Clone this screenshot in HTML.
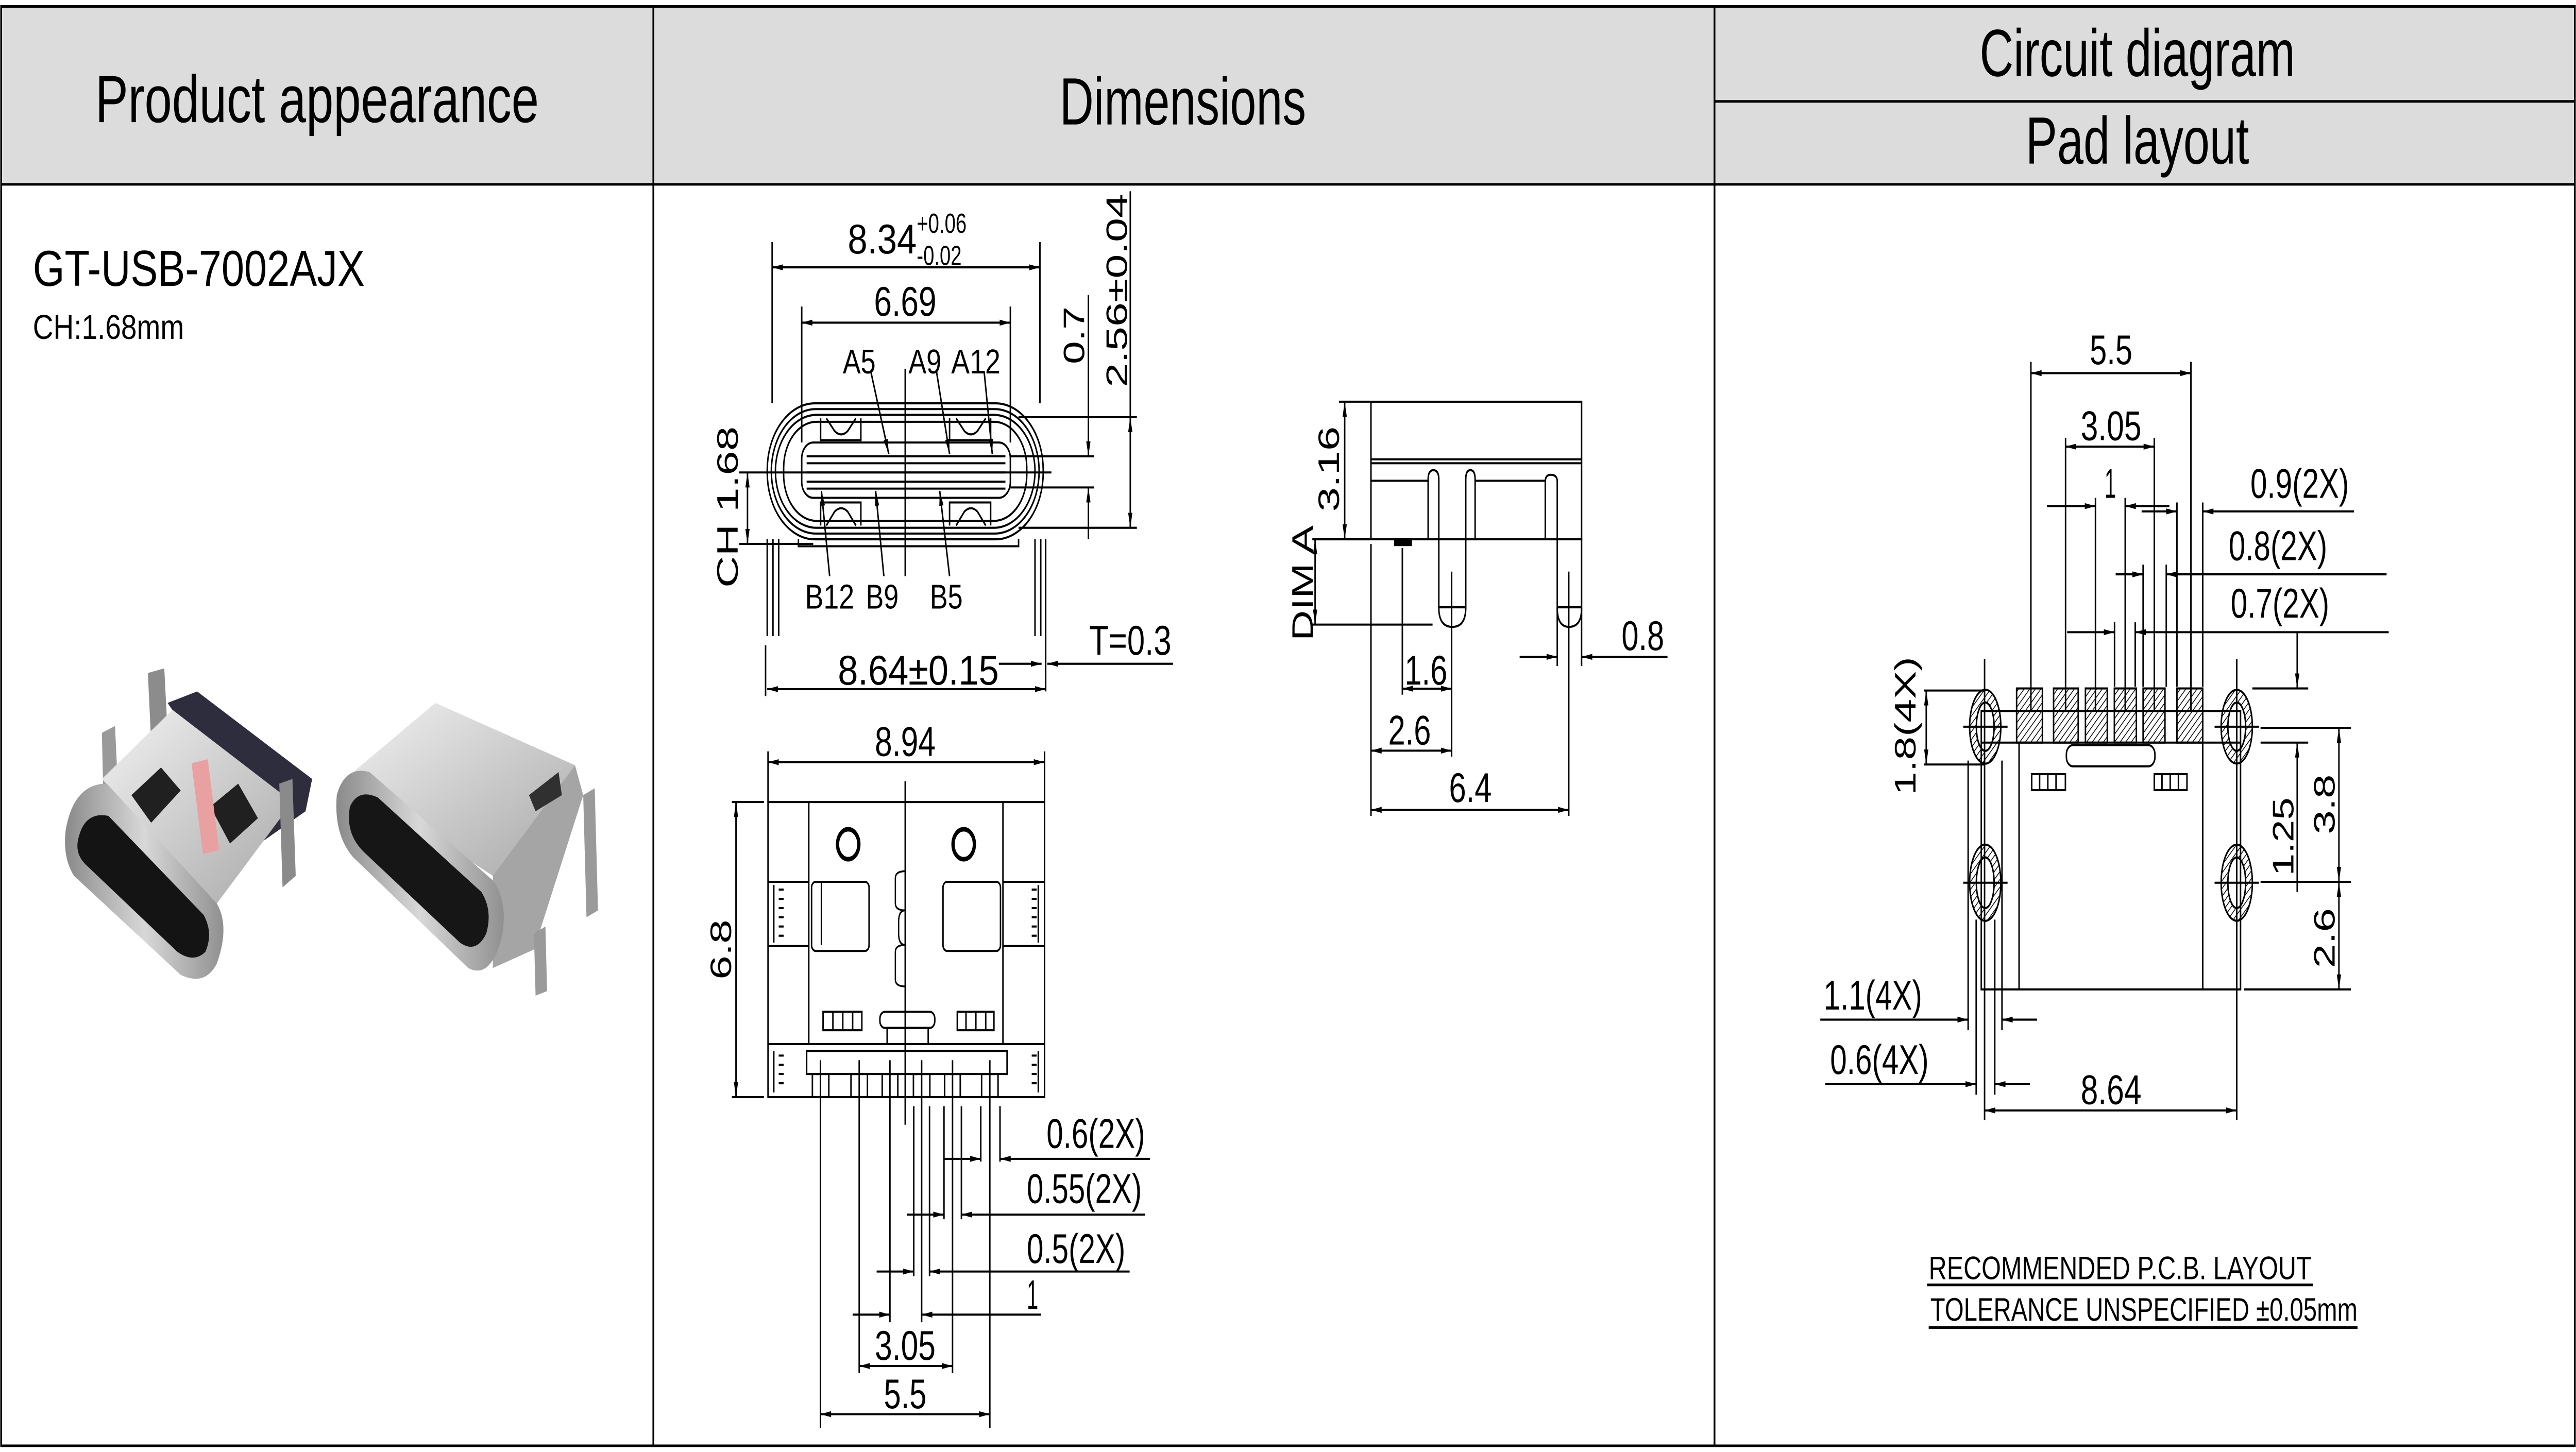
<!DOCTYPE html>
<html><head><meta charset="utf-8"><style>
html,body{margin:0;padding:0;background:#fff;width:100%;height:100%;overflow:hidden;}
svg{display:block;position:absolute;left:0;top:0;width:100vw;height:100vh;}
text{font-family:"Liberation Sans",Arial,sans-serif;fill:#000;}
</style></head><body>
<svg xmlns="http://www.w3.org/2000/svg" viewBox="0 0 1568 630" preserveAspectRatio="none">
<defs>
<marker id="a" viewBox="0 0 10 4" refX="10" refY="2" markerWidth="9" markerHeight="2.6" orient="auto-start-reverse" markerUnits="userSpaceOnUse"><path d="M0,0 L10,2 L0,4z" fill="#000"/></marker>
<pattern id="h" patternUnits="userSpaceOnUse" width="2.4" height="2.4" patternTransform="rotate(45)"><rect width="2.4" height="2.4" fill="#fff"/><line x1="0" y1="0" x2="0" y2="2.4" stroke="#000" stroke-width="0.8"/></pattern>
<linearGradient id="g1" x1="0" y1="0" x2="1" y2="1"><stop offset="0" stop-color="#f2f2f2"/><stop offset="1" stop-color="#a8a8a8"/></linearGradient>
<linearGradient id="g2" x1="0" y1="0" x2="1" y2="0"><stop offset="0" stop-color="#8a8a8a"/><stop offset="0.5" stop-color="#d8d8d8"/><stop offset="1" stop-color="#909090"/></linearGradient>
</defs>

<rect x="0.7" y="2.8" width="1566.6" height="77" fill="#dcdcdc"/>
<g stroke="#000" stroke-width="1.1" fill="none">
<rect x="0.7" y="2.8" width="1566.6" height="624.5"/>
<line x1="0.7" y1="80" x2="1567.3" y2="80"/>
<line x1="397.7" y1="2.8" x2="397.7" y2="627.3"/>
<line x1="1043.6" y1="2.8" x2="1043.6" y2="627.3"/>
<line x1="1043.6" y1="44" x2="1567.3" y2="44"/>
</g>
<text x="193" y="53" font-size="29" text-anchor="middle" textLength="270" lengthAdjust="spacingAndGlyphs">Product appearance</text>
<text x="720" y="54" font-size="29" text-anchor="middle" textLength="150" lengthAdjust="spacingAndGlyphs">Dimensions</text>
<text x="1301" y="33" font-size="29" text-anchor="middle" textLength="192" lengthAdjust="spacingAndGlyphs">Circuit diagram</text>
<text x="1301" y="71" font-size="29" text-anchor="middle" textLength="136" lengthAdjust="spacingAndGlyphs">Pad layout</text>
<text x="20" y="124" font-size="22" textLength="202" lengthAdjust="spacingAndGlyphs">GT-USB-7002AJX</text>
<text x="20" y="147" font-size="15" textLength="92" lengthAdjust="spacingAndGlyphs">CH:1.68mm</text>

<g>
<polygon points="90,292 100,290 102,318 92,322" fill="#8c8c8c"/>
<polygon points="62,318 70,315 72,345 63,348" fill="#9a9a9a"/>
<polygon points="102,305 120,300 190,338 186,352 160,365" fill="#2d2d3d"/>
<polygon points="62,338 105,308 178,348 132,392" fill="url(#g1)"/>
<polygon points="80,345 98,333 110,343 92,357" fill="#202020"/>
<polygon points="128,350 145,340 157,355 140,366" fill="#202020"/>
<rect x="120" y="330" width="10" height="40" fill="#e8a0a0" transform="rotate(-10 125 350)"/>
<path d="M40,360 Q45,340 65,340 L132,392 Q140,402 132,418 Q125,428 110,423 L45,380 Q38,372 40,360z" fill="url(#g2)"/>
<path d="M48,363 Q52,352 66,354 L124,397 Q130,405 125,413 Q118,418 108,413 L52,375 Q45,370 48,363z" fill="#141414"/>
<polygon points="170,340 178,338 180,380 172,385" fill="#8a8a8a"/>
<polygon points="210,338 265,305 350,332 300,380" fill="url(#g1)"/>
<polygon points="300,380 350,332 355,345 325,412 300,420" fill="#a5a5a5"/>
<polygon points="322,345 340,335 342,345 326,352" fill="#303030"/>
<path d="M205,345 Q210,332 225,335 L300,382 Q310,392 305,408 Q298,425 285,420 L215,372 Q203,362 205,345z" fill="url(#g2)"/>
<path d="M213,350 Q218,342 230,346 L293,387 Q300,395 296,405 Q290,414 280,409 L222,370 Q210,362 213,350z" fill="#161616"/>
<polygon points="325,405 332,402 333,430 326,432" fill="#9a9a9a"/>
<polygon points="355,345 362,342 364,395 357,398" fill="#9a9a9a"/>
</g>

<g stroke="#000" stroke-width="0.9" fill="none">
<rect x="467" y="175" width="168" height="59" rx="29"/>
<rect x="469.5" y="177.5" width="163" height="54" rx="27"/>
<rect x="472" y="180" width="158" height="49" rx="25"/>
<rect x="477" y="183" width="148" height="43" rx="20"/>
<rect x="488" y="192" width="127" height="24" rx="7"/>
<line x1="491" y1="198" x2="612" y2="198"/>
<line x1="491" y1="201" x2="612" y2="201"/>
<line x1="491" y1="205" x2="612" y2="205"/>
<line x1="491" y1="209" x2="612" y2="209"/>
<line x1="491" y1="212" x2="612" y2="212"/>
<path d="M499.5,181.5 V191 H524 V181.5 M503,181.5 L508,187 Q512,190 516,187 L521,181.5"/>
<path d="M578,181.5 V191 H603 V181.5 M582,181.5 L587,187 Q591,190 595,187 L600,181.5"/>
<path d="M499.5,228 V218 H524 V228 M503,228 L508,222 Q512,219 516,222 L521,228"/>
<path d="M578,228 V218 H603 V228 M582,228 L587,222 Q591,219 595,222 L600,228"/>
<path d="M486,234 V237 H620 V234"/>
<line x1="467" y1="234" x2="467" y2="276"/><line x1="470.5" y1="234" x2="470.5" y2="276"/><line x1="474" y1="234" x2="474" y2="276"/>
<line x1="630" y1="234" x2="630" y2="276"/><line x1="633.5" y1="234" x2="633.5" y2="276"/><line x1="636.5" y1="234" x2="636.5" y2="300"/>
<line x1="466" y1="280" x2="466" y2="302"/>
<line x1="551" y1="160" x2="551" y2="250"/>
<line x1="470" y1="105" x2="470" y2="175"/><line x1="633" y1="105" x2="633" y2="175"/>
<line x1="488" y1="133" x2="488" y2="192"/><line x1="615" y1="133" x2="615" y2="192"/>
<line x1="620" y1="181" x2="692" y2="181"/>
<line x1="615" y1="198" x2="666" y2="198"/>
<line x1="615" y1="211.5" x2="666" y2="211.5"/>
<line x1="620" y1="229" x2="692" y2="229"/>
<line x1="450" y1="205" x2="640" y2="205"/>
<line x1="450" y1="236" x2="495" y2="236"/>
<line x1="470" y1="116" x2="633" y2="116" marker-start="url(#a)" marker-end="url(#a)"/>
<line x1="488" y1="140" x2="615" y2="140" marker-start="url(#a)" marker-end="url(#a)"/>
<line x1="688" y1="83" x2="688" y2="181"/>
<line x1="688" y1="181" x2="688" y2="229" marker-start="url(#a)" marker-end="url(#a)"/>
<line x1="662.5" y1="128" x2="662.5" y2="198" marker-end="url(#a)"/>
<line x1="662.5" y1="234" x2="662.5" y2="211.5" marker-end="url(#a)"/>
<line x1="455" y1="205" x2="455" y2="236" marker-start="url(#a)" marker-end="url(#a)"/>
<line x1="467" y1="299" x2="636.5" y2="299" marker-start="url(#a)" marker-end="url(#a)"/>
<line x1="608" y1="288" x2="634" y2="288" marker-end="url(#a)"/>
<line x1="714" y1="288" x2="637.5" y2="288" marker-end="url(#a)"/>
<line x1="530" y1="161" x2="541" y2="197" marker-end="url(#a)"/>
<line x1="570" y1="161" x2="578" y2="197" marker-end="url(#a)"/>
<line x1="599" y1="161" x2="604" y2="197" marker-end="url(#a)"/>
<line x1="505" y1="250" x2="500" y2="213" marker-end="url(#a)"/>
<line x1="538" y1="250" x2="533" y2="213" marker-end="url(#a)"/>
<line x1="578" y1="250" x2="572" y2="213" marker-end="url(#a)"/>
</g>
<g font-size="18">
<text x="516" y="110" textLength="42" lengthAdjust="spacingAndGlyphs">8.34</text>
<text x="558" y="101" font-size="12">+0.06</text>
<text x="558" y="115" font-size="12">-0.02</text>
<text x="532" y="137" textLength="38" lengthAdjust="spacingAndGlyphs">6.69</text>
<text x="513" y="162" font-size="15" textLength="20" lengthAdjust="spacingAndGlyphs">A5</text>
<text x="553" y="162" font-size="15" textLength="20" lengthAdjust="spacingAndGlyphs">A9</text>
<text x="579" y="162" font-size="15" textLength="30" lengthAdjust="spacingAndGlyphs">A12</text>
<text x="490" y="264" font-size="15" textLength="30" lengthAdjust="spacingAndGlyphs">B12</text>
<text x="527" y="264" font-size="15" textLength="20" lengthAdjust="spacingAndGlyphs">B9</text>
<text x="566" y="264" font-size="15" textLength="20" lengthAdjust="spacingAndGlyphs">B5</text>
<text x="510" y="297" textLength="98" lengthAdjust="spacingAndGlyphs">8.64±0.15</text>
<text x="663" y="284" textLength="50" lengthAdjust="spacingAndGlyphs">T=0.3</text>
<text transform="translate(660,158) rotate(-90)" textLength="25" lengthAdjust="spacingAndGlyphs">0.7</text>
<text transform="translate(686,168) rotate(-90)" textLength="84" lengthAdjust="spacingAndGlyphs">2.56±0.04</text>
<text transform="translate(449,255) rotate(-90)" textLength="70" lengthAdjust="spacingAndGlyphs">CH 1.68</text>
</g>

<g stroke="#000" stroke-width="0.9" fill="none">
<rect x="467.5" y="348" width="168.3" height="128"/>
<line x1="492.3" y1="348" x2="492.3" y2="453"/>
<line x1="610.5" y1="348" x2="610.5" y2="453"/>
<line x1="467.5" y1="382.6" x2="492.3" y2="382.6"/><line x1="467.5" y1="410.5" x2="492.3" y2="410.5"/>
<line x1="610.5" y1="382.6" x2="635.8" y2="382.6"/><line x1="610.5" y1="410.5" x2="635.8" y2="410.5"/>
<path d="M471,384 V409 M474,386 H477 M474,390 H477 M474,394 H477 M474,398 H477 M474,402 H477 M474,406 H477"/>
<path d="M632,384 V409 M628,386 H631 M628,390 H631 M628,394 H631 M628,398 H631 M628,402 H631 M628,406 H631"/>
<path d="M471,456 V474 M474,458 H477 M474,462 H477 M474,466 H477 M474,470 H477"/>
<path d="M632,456 V474 M628,458 H631 M628,462 H631 M628,466 H631 M628,470 H631"/>
<rect x="494" y="382.6" width="35" height="30" rx="2.5"/>
<line x1="500" y1="383" x2="500" y2="410"/>
<rect x="574" y="382.6" width="35" height="30" rx="2.5"/>
<circle cx="516.3" cy="366.3" r="6.5" stroke-width="2"/>
<circle cx="586.6" cy="366.3" r="6.5" stroke-width="2"/>
<path d="M551,378 Q545,378 545,381 V392 Q545,395 551,395 M551,410 Q545,410 545,413 V425 Q545,428 551,428 M551,395 Q547,395 547,400 V405 Q547,410 551,410" stroke-width="0.8"/>
<line x1="551" y1="339" x2="551" y2="488"/>
<rect x="501" y="439" width="23.6" height="8"/>
<line x1="507" y1="439" x2="507" y2="447"/><line x1="513" y1="439" x2="513" y2="447"/><line x1="519" y1="439" x2="519" y2="447"/>
<rect x="582.7" y="439" width="22.3" height="8"/>
<line x1="588" y1="439" x2="588" y2="447"/><line x1="594" y1="439" x2="594" y2="447"/><line x1="600" y1="439" x2="600" y2="447"/>
<rect x="535.6" y="439" width="33.4" height="7" rx="3"/>
<rect x="540" y="446" width="25" height="7"/>
<line x1="467.5" y1="453" x2="635.8" y2="453"/>
<rect x="491" y="456" width="122" height="10"/>
<rect x="494.5" y="466" width="10" height="10"/><rect x="518" y="466" width="10" height="10"/>
<rect x="537" y="466" width="9.5" height="10"/><rect x="556" y="466" width="10" height="10"/>
<rect x="575" y="466" width="9.5" height="10"/><rect x="597.5" y="466" width="10" height="10"/>
<line x1="467.5" y1="326" x2="467.5" y2="348"/><line x1="635.8" y1="326" x2="635.8" y2="348"/>
<line x1="445.5" y1="348" x2="465" y2="348"/><line x1="445.5" y1="476" x2="465" y2="476"/>
<line x1="499.4" y1="460" x2="499.4" y2="619.6"/><line x1="602.5" y1="460" x2="602.5" y2="619.6"/>
<line x1="523" y1="460" x2="523" y2="595.7"/><line x1="579.8" y1="460" x2="579.8" y2="595.7"/>
<line x1="541.7" y1="460" x2="541.7" y2="573.7"/><line x1="561" y1="460" x2="561" y2="573.7"/>
<line x1="556.2" y1="480" x2="556.2" y2="553.8"/><line x1="565.8" y1="480" x2="565.8" y2="553.8"/>
<line x1="574.6" y1="480" x2="574.6" y2="529"/><line x1="585.2" y1="480" x2="585.2" y2="529"/>
<line x1="597" y1="480" x2="597" y2="504"/><line x1="608.7" y1="480" x2="608.7" y2="504"/>
<line x1="467.5" y1="330.7" x2="635.8" y2="330.7" marker-start="url(#a)" marker-end="url(#a)"/>
<line x1="448" y1="348" x2="448" y2="476" marker-start="url(#a)" marker-end="url(#a)"/>
<line x1="499.4" y1="613.6" x2="602.5" y2="613.6" marker-start="url(#a)" marker-end="url(#a)"/>
<line x1="523" y1="592.7" x2="579.8" y2="592.7" marker-start="url(#a)" marker-end="url(#a)"/>
<line x1="519" y1="570.4" x2="541.7" y2="570.4" marker-end="url(#a)"/>
<line x1="633.7" y1="570.4" x2="561" y2="570.4" marker-end="url(#a)"/>
<line x1="533.6" y1="551.7" x2="556.2" y2="551.7" marker-end="url(#a)"/>
<line x1="687.6" y1="551.7" x2="565.8" y2="551.7" marker-end="url(#a)"/>
<line x1="552" y1="527" x2="574.6" y2="527" marker-end="url(#a)"/>
<line x1="697" y1="527" x2="585.2" y2="527" marker-end="url(#a)"/>
<line x1="574.6" y1="502.8" x2="597" y2="502.8" marker-end="url(#a)"/>
<line x1="700" y1="502.8" x2="608.7" y2="502.8" marker-end="url(#a)"/>
</g>
<g font-size="18">
<text x="551" y="328" text-anchor="middle" textLength="37" lengthAdjust="spacingAndGlyphs">8.94</text>
<text transform="translate(445,425) rotate(-90)" textLength="26" lengthAdjust="spacingAndGlyphs">6.8</text>
<text x="551" y="611" text-anchor="middle" textLength="26" lengthAdjust="spacingAndGlyphs">5.5</text>
<text x="551" y="590" text-anchor="middle" textLength="37" lengthAdjust="spacingAndGlyphs">3.05</text>
<text x="625" y="568" textLength="7" lengthAdjust="spacingAndGlyphs">1</text>
<text x="625" y="548" textLength="60" lengthAdjust="spacingAndGlyphs">0.5(2X)</text>
<text x="625" y="522" textLength="70" lengthAdjust="spacingAndGlyphs">0.55(2X)</text>
<text x="637" y="498" textLength="60" lengthAdjust="spacingAndGlyphs">0.6(2X)</text>
</g>

<g stroke="#000" stroke-width="0.9" fill="none">
<rect x="834.5" y="174.3" width="128.2" height="59.7"/>
<line x1="834.5" y1="199.3" x2="962.7" y2="199.3"/>
<line x1="834.5" y1="201" x2="962.7" y2="201"/>
<line x1="834.5" y1="208.6" x2="869.3" y2="208.6"/>
<line x1="897.9" y1="208.6" x2="940.6" y2="208.6"/>
<path d="M869.3,234 V208 Q869.3,204 872.5,204 Q875.8,204 875.8,208 V264 Q876,272 884,272 Q892,272 892.2,264 V208 Q892.2,204 895,204 Q897.9,204 897.9,208 V234"/>
<line x1="875.8" y1="263.5" x2="892.2" y2="263.5"/>
<path d="M940.6,234 V209 Q940.6,206 944,206 Q947.9,206 947.9,209 V264 Q948,272 955,272 Q962.7,272 962.7,264 V234"/>
<line x1="947.9" y1="263.5" x2="962.7" y2="263.5"/>
<rect x="849" y="234" width="10" height="2.5" fill="#000"/>
<line x1="815" y1="174.3" x2="834" y2="174.3"/>
<line x1="798.8" y1="234" x2="834" y2="234"/>
<line x1="798.8" y1="271" x2="872" y2="271"/>
<line x1="834.5" y1="236" x2="834.5" y2="354"/>
<line x1="853.6" y1="237.8" x2="853.6" y2="301.4"/>
<line x1="883.6" y1="248" x2="883.6" y2="328.3"/>
<line x1="954.9" y1="248" x2="954.9" y2="354"/>
<line x1="947.9" y1="264" x2="947.9" y2="289"/>
<line x1="962.7" y1="264" x2="962.7" y2="289"/>
<line x1="818.5" y1="174.3" x2="818.5" y2="234" marker-start="url(#a)" marker-end="url(#a)"/>
<line x1="800.5" y1="234" x2="800.5" y2="271" marker-start="url(#a)" marker-end="url(#a)"/>
<line x1="853.6" y1="298.8" x2="883.6" y2="298.8" marker-start="url(#a)" marker-end="url(#a)"/>
<line x1="834.5" y1="325.7" x2="883.6" y2="325.7" marker-start="url(#a)" marker-end="url(#a)"/>
<line x1="834.5" y1="351.4" x2="954.9" y2="351.4" marker-start="url(#a)" marker-end="url(#a)"/>
<line x1="925" y1="285" x2="947.9" y2="285" marker-end="url(#a)"/>
<line x1="1015" y1="285" x2="962.7" y2="285" marker-end="url(#a)"/>
</g>
<g font-size="18">
<text transform="translate(815,222) rotate(-90)" textLength="37" lengthAdjust="spacingAndGlyphs">3.16</text>
<text transform="translate(799,278) rotate(-90)" textLength="50" lengthAdjust="spacingAndGlyphs">DIM A</text>
<text x="868" y="297" text-anchor="middle" textLength="26" lengthAdjust="spacingAndGlyphs">1.6</text>
<text x="858" y="323" text-anchor="middle" textLength="26" lengthAdjust="spacingAndGlyphs">2.6</text>
<text x="895" y="348" text-anchor="middle" textLength="26" lengthAdjust="spacingAndGlyphs">6.4</text>
<text x="987" y="282" textLength="26" lengthAdjust="spacingAndGlyphs">0.8</text>
</g>

<g stroke="#000" stroke-width="0.9">
<rect x="1227.5" y="298.7" width="15.7" height="23.5" fill="url(#h)"/>
<rect x="1250" y="298.7" width="15" height="23.5" fill="url(#h)"/>
<rect x="1269.4" y="298.7" width="13.3" height="23.5" fill="url(#h)"/>
<rect x="1287" y="298.7" width="13.4" height="23.5" fill="url(#h)"/>
<rect x="1304.5" y="298.7" width="13.3" height="23.5" fill="url(#h)"/>
<rect x="1325.1" y="298.7" width="15.7" height="23.5" fill="url(#h)"/>
<path fill="url(#h)" fill-rule="evenodd" d="M1198.9,315.3 a9.5,16 0 1,0 19,0 a9.5,16 0 1,0 -19,0z M1203,315.3 a5.4,10.5 0 1,0 10.8,0 a5.4,10.5 0 1,0 -10.8,0z"/>
<path fill="url(#h)" fill-rule="evenodd" d="M1198.9,383 a9.5,16.5 0 1,0 19,0 a9.5,16.5 0 1,0 -19,0z M1203,383 a5.4,11 0 1,0 10.8,0 a5.4,11 0 1,0 -10.8,0z"/>
<path fill="url(#h)" fill-rule="evenodd" d="M1352,315.3 a9.5,16 0 1,0 19,0 a9.5,16 0 1,0 -19,0z M1356.1,315.3 a5.4,10.5 0 1,0 10.8,0 a5.4,10.5 0 1,0 -10.8,0z"/>
<path fill="url(#h)" fill-rule="evenodd" d="M1352,383 a9.5,16.5 0 1,0 19,0 a9.5,16.5 0 1,0 -19,0z M1356.1,383 a5.4,11 0 1,0 10.8,0 a5.4,11 0 1,0 -10.8,0z"/>
</g>
<g stroke="#000" stroke-width="0.9" fill="none">
<rect x="1206" y="308.5" width="157.8" height="120.8"/>
<line x1="1229" y1="322.2" x2="1229" y2="429.3"/>
<line x1="1340.8" y1="322.2" x2="1340.8" y2="429.3"/>
<line x1="1206" y1="322.2" x2="1363.8" y2="322.2"/>
<rect x="1257.8" y="323.3" width="53.9" height="9.2" rx="4"/>
<rect x="1236.7" y="335.9" width="20.5" height="6.9"/>
<line x1="1241.5" y1="336" x2="1241.5" y2="342.8"/><line x1="1246.5" y1="336" x2="1246.5" y2="342.8"/><line x1="1251.5" y1="336" x2="1251.5" y2="342.8"/>
<rect x="1311.3" y="335.9" width="19.9" height="6.9"/>
<line x1="1316" y1="336" x2="1316" y2="342.8"/><line x1="1321" y1="336" x2="1321" y2="342.8"/><line x1="1326" y1="336" x2="1326" y2="342.8"/>
<line x1="1208" y1="286" x2="1208" y2="486"/>
<line x1="1361.5" y1="286" x2="1361.5" y2="486"/>
<line x1="1195" y1="315.3" x2="1222" y2="315.3"/><line x1="1348" y1="315.3" x2="1375" y2="315.3"/>
<line x1="1195" y1="383" x2="1222" y2="383"/><line x1="1348" y1="383" x2="1375" y2="383"/>
<line x1="1198" y1="330" x2="1198" y2="447"/><line x1="1218.6" y1="330" x2="1218.6" y2="447"/>
<line x1="1202.9" y1="399" x2="1202.9" y2="475"/><line x1="1214.2" y1="399" x2="1214.2" y2="475"/>
<line x1="1236.2" y1="157" x2="1236.2" y2="308"/><line x1="1333.6" y1="157" x2="1333.6" y2="308"/>
<line x1="1257.3" y1="190" x2="1257.3" y2="308"/><line x1="1311.3" y1="190" x2="1311.3" y2="308"/>
<line x1="1275.5" y1="216" x2="1275.5" y2="308"/><line x1="1293.6" y1="216" x2="1293.6" y2="308"/>
<line x1="1325.1" y1="218" x2="1325.1" y2="298"/><line x1="1340.8" y1="218" x2="1340.8" y2="298"/>
<line x1="1304.5" y1="245" x2="1304.5" y2="298"/><line x1="1318.6" y1="245" x2="1318.6" y2="298"/>
<line x1="1287.1" y1="270" x2="1287.1" y2="298"/><line x1="1299.7" y1="270" x2="1299.7" y2="298"/>
<line x1="1236.2" y1="161.9" x2="1333.6" y2="161.9" marker-start="url(#a)" marker-end="url(#a)"/>
<line x1="1257.3" y1="193.8" x2="1311.3" y2="193.8" marker-start="url(#a)" marker-end="url(#a)"/>
<line x1="1246" y1="219.6" x2="1275.5" y2="219.6" marker-end="url(#a)"/>
<line x1="1320.5" y1="219.6" x2="1293.6" y2="219.6" marker-end="url(#a)"/>
<line x1="1303.6" y1="221.9" x2="1325.1" y2="221.9" marker-end="url(#a)"/>
<line x1="1432.9" y1="221.9" x2="1340.8" y2="221.9" marker-end="url(#a)"/>
<line x1="1287.8" y1="249.2" x2="1304.5" y2="249.2" marker-end="url(#a)"/>
<line x1="1452.7" y1="249.2" x2="1318.6" y2="249.2" marker-end="url(#a)"/>
<line x1="1258.3" y1="274.3" x2="1287.1" y2="274.3" marker-end="url(#a)"/>
<line x1="1454" y1="274.3" x2="1299.7" y2="274.3" marker-end="url(#a)"/>
<line x1="1371" y1="298.7" x2="1405" y2="298.7"/>
<line x1="1376" y1="315.8" x2="1431" y2="315.8"/>
<line x1="1376" y1="322.2" x2="1405" y2="322.2"/>
<line x1="1376" y1="382.6" x2="1431" y2="382.6"/>
<line x1="1366" y1="429.3" x2="1431" y2="429.3"/>
<line x1="1398.3" y1="274" x2="1398.3" y2="298.7" marker-end="url(#a)"/>
<line x1="1398.3" y1="387" x2="1398.3" y2="322.2" marker-end="url(#a)"/>
<line x1="1423.7" y1="315.8" x2="1423.7" y2="382.6" marker-start="url(#a)" marker-end="url(#a)"/>
<line x1="1423.7" y1="382.6" x2="1423.7" y2="429.3" marker-start="url(#a)" marker-end="url(#a)"/>
<line x1="1171" y1="299.6" x2="1208" y2="299.6"/>
<line x1="1171" y1="331.7" x2="1208" y2="331.7"/>
<line x1="1172.5" y1="299.6" x2="1172.5" y2="331.7" marker-start="url(#a)" marker-end="url(#a)"/>
<line x1="1108" y1="442.4" x2="1198" y2="442.4" marker-end="url(#a)"/>
<line x1="1240" y1="442.4" x2="1218.6" y2="442.4" marker-end="url(#a)"/>
<line x1="1111" y1="470.4" x2="1202.9" y2="470.4" marker-end="url(#a)"/>
<line x1="1235.6" y1="470.4" x2="1214.2" y2="470.4" marker-end="url(#a)"/>
<line x1="1208" y1="481.8" x2="1361.5" y2="481.8" marker-start="url(#a)" marker-end="url(#a)"/>
<line x1="1173" y1="557.5" x2="1408" y2="557.5" stroke-width="1.2"/>
<line x1="1174" y1="576" x2="1435" y2="576" stroke-width="1.2"/>
</g>
<g font-size="18">
<text x="1285" y="158" text-anchor="middle" textLength="26" lengthAdjust="spacingAndGlyphs">5.5</text>
<text x="1285" y="191" text-anchor="middle" textLength="37" lengthAdjust="spacingAndGlyphs">3.05</text>
<text x="1281" y="216" textLength="7" lengthAdjust="spacingAndGlyphs">1</text>
<text x="1369.8" y="216" textLength="60" lengthAdjust="spacingAndGlyphs">0.9(2X)</text>
<text x="1356.6" y="243" textLength="60" lengthAdjust="spacingAndGlyphs">0.8(2X)</text>
<text x="1357.8" y="268" textLength="60" lengthAdjust="spacingAndGlyphs">0.7(2X)</text>
<text transform="translate(1166,345) rotate(-90)" textLength="60" lengthAdjust="spacingAndGlyphs">1.8(4X)</text>
<text transform="translate(1396,380) rotate(-90)" textLength="34" lengthAdjust="spacingAndGlyphs">1.25</text>
<text transform="translate(1421,362) rotate(-90)" textLength="26" lengthAdjust="spacingAndGlyphs">3.8</text>
<text transform="translate(1421,420) rotate(-90)" textLength="26" lengthAdjust="spacingAndGlyphs">2.6</text>
<text x="1110" y="438" textLength="60" lengthAdjust="spacingAndGlyphs">1.1(4X)</text>
<text x="1114" y="466" textLength="60" lengthAdjust="spacingAndGlyphs">0.6(4X)</text>
<text x="1285" y="479" text-anchor="middle" textLength="37" lengthAdjust="spacingAndGlyphs">8.64</text>
</g>
<text x="1174" y="555" font-size="14" textLength="233" lengthAdjust="spacingAndGlyphs">RECOMMENDED  P.C.B. LAYOUT</text>
<text x="1175" y="573" font-size="14" textLength="260" lengthAdjust="spacingAndGlyphs">TOLERANCE UNSPECIFIED ±0.05mm</text>
</svg>
</body></html>
